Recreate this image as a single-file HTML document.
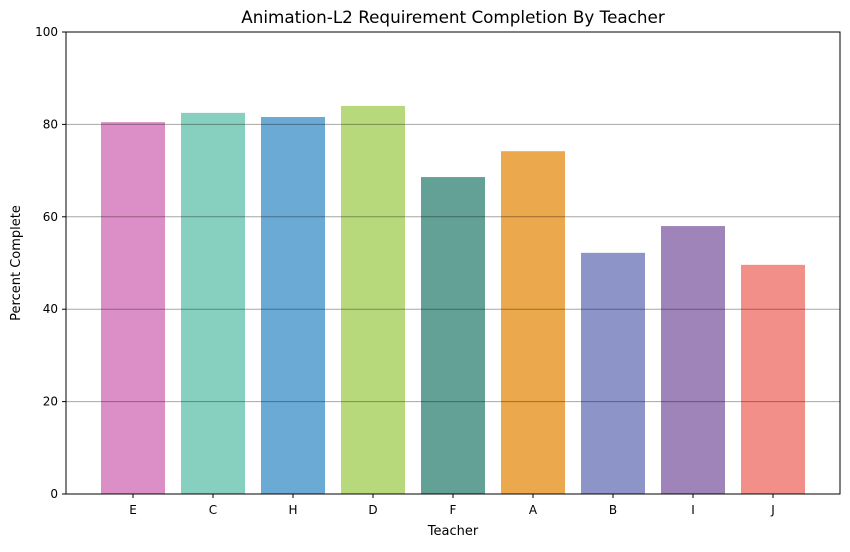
<!DOCTYPE html>
<html><head><meta charset="utf-8"><style>
body{margin:0;background:#fff;font-family:"Liberation Sans","DejaVu Sans",sans-serif;}
</style></head><body>
<svg id="chart" width="850" height="547" xmlns="http://www.w3.org/2000/svg" font-family="DejaVu Sans, Liberation Sans, sans-serif">
<rect width="850" height="547" fill="#fff"/>
<g id="bars"></g>
<g id="grid"></g>
<g id="axes"></g>
<text x="453" y="23" text-anchor="middle" font-size="16.8" fill="#000">Animation-L2 Requirement Completion By Teacher</text>
<text x="453" y="535" text-anchor="middle" font-size="13" fill="#000">Teacher</text>
<text transform="translate(20,263) rotate(-90)" text-anchor="middle" font-size="13" fill="#000">Percent Complete</text>
</svg>
<script>
const categories=["E","C","H","D","F","A","B","I","J"];
const values=[80.5,82.5,81.6,84.0,68.6,74.2,52.2,58.0,49.6];
const colors=["#db8fc6","#87d0bf","#6aaad5","#b8d97b","#63a096","#eca84c","#8d94c7","#9e84b9","#f28f89"];
const yTicks=[0,20,40,60,80,100];
const L=66,R=840,T=32,B=494;
const NS="http://www.w3.org/2000/svg";
const margin=0.4375;
const band=(R-L)/(categories.length-1+0.8+2*margin);
function x(i){return L+(margin+0.4+i)*band;}
function y(v){return B-(v/100)*(B-T);}
function mk(tag,attrs,parent){const e=document.createElementNS(NS,tag);for(const k in attrs)e.setAttribute(k,attrs[k]);parent.appendChild(e);return e;}
const bars=document.getElementById('bars'),grid=document.getElementById('grid'),axes=document.getElementById('axes');
categories.forEach((c,i)=>{
  const r=mk('rect',{x:x(i)-0.4*band,y:y(values[i]),width:0.8*band,height:B-y(values[i]),fill:colors[i]},bars);
  
  
  const t=mk('text',{x:x(i),y:B+20,'text-anchor':'middle','font-size':'12',fill:'#000'},axes);
  t.textContent=c;
  
  
  mk('line',{x1:x(i),x2:x(i),y1:B,y2:B+4,stroke:'#000','stroke-width':1},axes);
});
yTicks.forEach(v=>{
  if(v>0&&v<100){const g=mk('line',{x1:L,x2:R,y1:y(v),y2:y(v),stroke:'rgba(0,0,0,0.35)','stroke-width':1},grid);
  
  }
  mk('line',{x1:L-4,x2:L,y1:y(v),y2:y(v),stroke:'#000','stroke-width':1},axes);
  const t=mk('text',{x:L-8,y:y(v)+4,'text-anchor':'end','font-size':'12',fill:'#000'},axes);
  t.textContent=v;
  
  
});
const f=mk('rect',{x:L,y:T,width:R-L,height:B-T,fill:'none',stroke:'#000','stroke-width':1},axes);


</script>
</body></html>
